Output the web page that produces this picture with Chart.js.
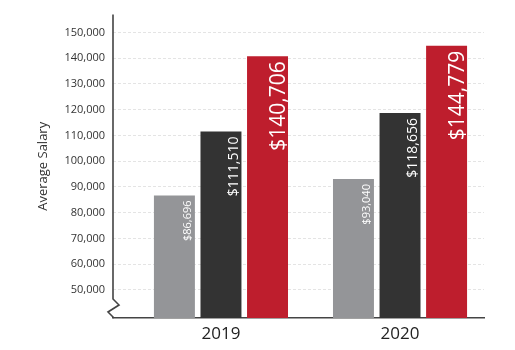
<!DOCTYPE html>
<html>
<head>
<meta charset="utf-8">
<script src="https://cdn.jsdelivr.net/npm/chart.js@4/dist/chart.umd.min.js"></script>
<style>
  html, body { margin: 0; padding: 0; background: #fff; }
  #wrap { width: 515px; height: 350px; }
</style>
</head>
<body>
<div id="wrap"><canvas id="salaryChart" width="515" height="350"></canvas></div>
<script>
'use strict';

// Chart data
let years = ['2019', '2020'];
let lowSalary = [86696, 93040];
let midSalary = [111510, 118656];
let highSalary = [140706, 144779];
let yTicks = [50000, 60000, 70000, 80000, 90000, 100000, 110000, 120000, 130000, 140000, 150000];

// Bar colours and label font sizes, one per series
let barColors = ['#949598', '#333333', '#be1e2d'];
let labelSizes = [11, 14, 21];

function toPoints(values) {
  return values.map(function (v, i) {
    return { x: i, y: v };
  });
}

// Writes the dollar value up the inside of each bar
let barLabels = {
  id: 'barLabels',
  afterDatasetsDraw: function (chart) {
    let ctx = chart.ctx;
    chart.data.datasets.forEach(function (ds, di) {
      let meta = chart.getDatasetMeta(di);
      meta.data.forEach(function (bar, i) {
        let text = '$' + ds.data[i].y.toLocaleString('en-US');
        ctx.save();
        ctx.translate(bar.x + bar.width / 2 - 3.5, bar.y + 5);
        ctx.rotate(-Math.PI / 2);
        ctx.font = labelSizes[di] + 'px "Open Sans"';
        ctx.fillStyle = '#ffffff';
        ctx.textAlign = 'right';
        ctx.textBaseline = 'alphabetic';
        ctx.fillText(text, 0, 0);
        ctx.restore();
      });
    });
  }
};

// Vertical axis line with a break mark near the bottom
let brokenAxis = {
  id: 'brokenAxis',
  afterDraw: function (chart) {
    let ctx = chart.ctx;
    let area = chart.chartArea;
    let x = area.left;
    let b = area.bottom;
    ctx.save();
    ctx.strokeStyle = '#444444';
    ctx.lineWidth = 1.6;
    ctx.lineJoin = 'miter';
    ctx.beginPath();
    ctx.moveTo(x, area.top);
    ctx.lineTo(x, b - 19);
    ctx.lineTo(x + 6, b - 13);
    ctx.lineTo(x - 5, b - 6);
    ctx.lineTo(x + 1, b);
    ctx.stroke();
    ctx.restore();
  }
};

let ctx = document.getElementById('salaryChart').getContext('2d');

new Chart(ctx, {
  type: 'bar',
  data: {
    datasets: [
      { data: toPoints(lowSalary), backgroundColor: barColors[0] },
      { data: toPoints(midSalary), backgroundColor: barColors[1] },
      { data: toPoints(highSalary), backgroundColor: barColors[2] }
    ]
  },
  options: {
    responsive: false,
    animation: false,
    devicePixelRatio: 1,
    categoryPercentage: 0.78,
    barPercentage: 0.88,
    layout: { padding: { top: 5, right: 31, left: 0, bottom: 0 } },
    plugins: {
      legend: { display: false },
      tooltip: { enabled: false }
    },
    scales: {
      x: {
        type: 'linear',
        offset: false,
        min: -0.603,
        max: 1.469,
        afterBuildTicks: function (scale) {
          scale.ticks = years.map(function (y, i) { return { value: i }; });
        },
        afterFit: function (scale) { scale.height = 32; },
        grid: { display: false, drawTicks: false, offset: false },
        border: { display: true, color: '#444444', width: 1.6 },
        ticks: {
          padding: 6,
          color: '#222222',
          font: { family: 'Open Sans', size: 17 },
          callback: function (value) { return years[value]; }
        }
      },
      y: {
        min: 39100,
        max: 156900,
        afterBuildTicks: function (scale) {
          scale.ticks = yTicks.map(function (v) { return { value: v }; });
        },
        afterFit: function (scale) { scale.width = 113; },
        grid: { color: '#e4e4e4', lineWidth: 1, drawTicks: false },
        border: { display: false, dash: [3, 2] },
        title: {
          display: true,
          text: 'Average Salary',
          color: '#333333',
          font: { family: 'Open Sans', size: 13 },
          padding: { top: 35 }
        },
        ticks: {
          padding: 8,
          color: '#333333',
          font: { family: 'Open Sans', size: 11 },
          callback: function (value) { return value.toLocaleString('en-US'); }
        }
      }
    }
  },
  plugins: [barLabels, brokenAxis]
});
</script>
</body>
</html>
